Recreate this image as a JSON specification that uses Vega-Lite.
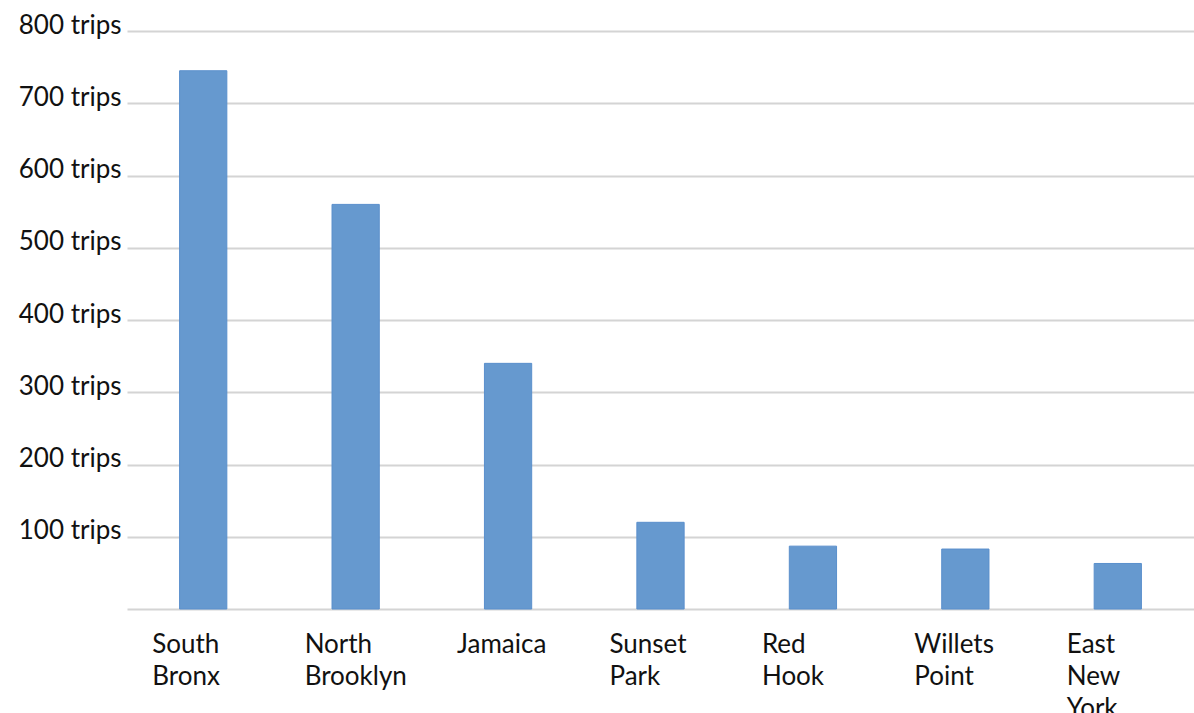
{
  "$schema": "https://vega.github.io/schema/vega-lite/v6.json",
  "width": 1067,
  "height": 578,
  "autosize": {"type": "none"},
  "padding": {"left": 127, "top": 31, "right": 0, "bottom": 104},
  "background": "white",
  "config": {"view": {"stroke": null}},
  "data": {"values": [
    {"area": "South Bronx", "trips": 745},
    {"area": "North Brooklyn", "trips": 560},
    {"area": "Jamaica", "trips": 340},
    {"area": "Sunset Park", "trips": 120},
    {"area": "Red Hook", "trips": 87},
    {"area": "Willets Point", "trips": 83},
    {"area": "East New York", "trips": 63}
  ]},
  "mark": {"type": "bar", "color": "#6699cf", "stroke": "#5a8fcc", "strokeWidth": 1},
  "encoding": {
    "x": {
      "field": "area", "type": "nominal", "sort": null,
      "scale": {"paddingInner": 0.69, "paddingOuter": 0.345},
      "axis": {
        "title": null, "domain": false, "ticks": false, "labelAngle": 0,
        "labelAlign": "left", "labelBaseline": "top", "labelOffset": -51,
        "labelPadding": 22, "labelFont": "Lato", "labelFontSize": 26,
        "labelColor": "#111111", "labelLineHeight": 32,
        "labelExpr": "split(datum.label, ' ')"
      }
    },
    "y": {
      "field": "trips", "type": "quantitative",
      "scale": {"domain": [0, 800]},
      "axis": {
        "title": null, "domain": false, "ticks": false,
        "values": [0, 100, 200, 300, 400, 500, 600, 700, 800],
        "labelExpr": "datum.value == 0 ? '' : datum.value + ' trips'",
        "labelFont": "Lato", "labelFontSize": 26, "labelColor": "#111111",
        "labelPadding": 6, "labelOffset": -6,
        "gridColor": "#d4d4d4", "gridWidth": 2
      }
    }
  }
}
